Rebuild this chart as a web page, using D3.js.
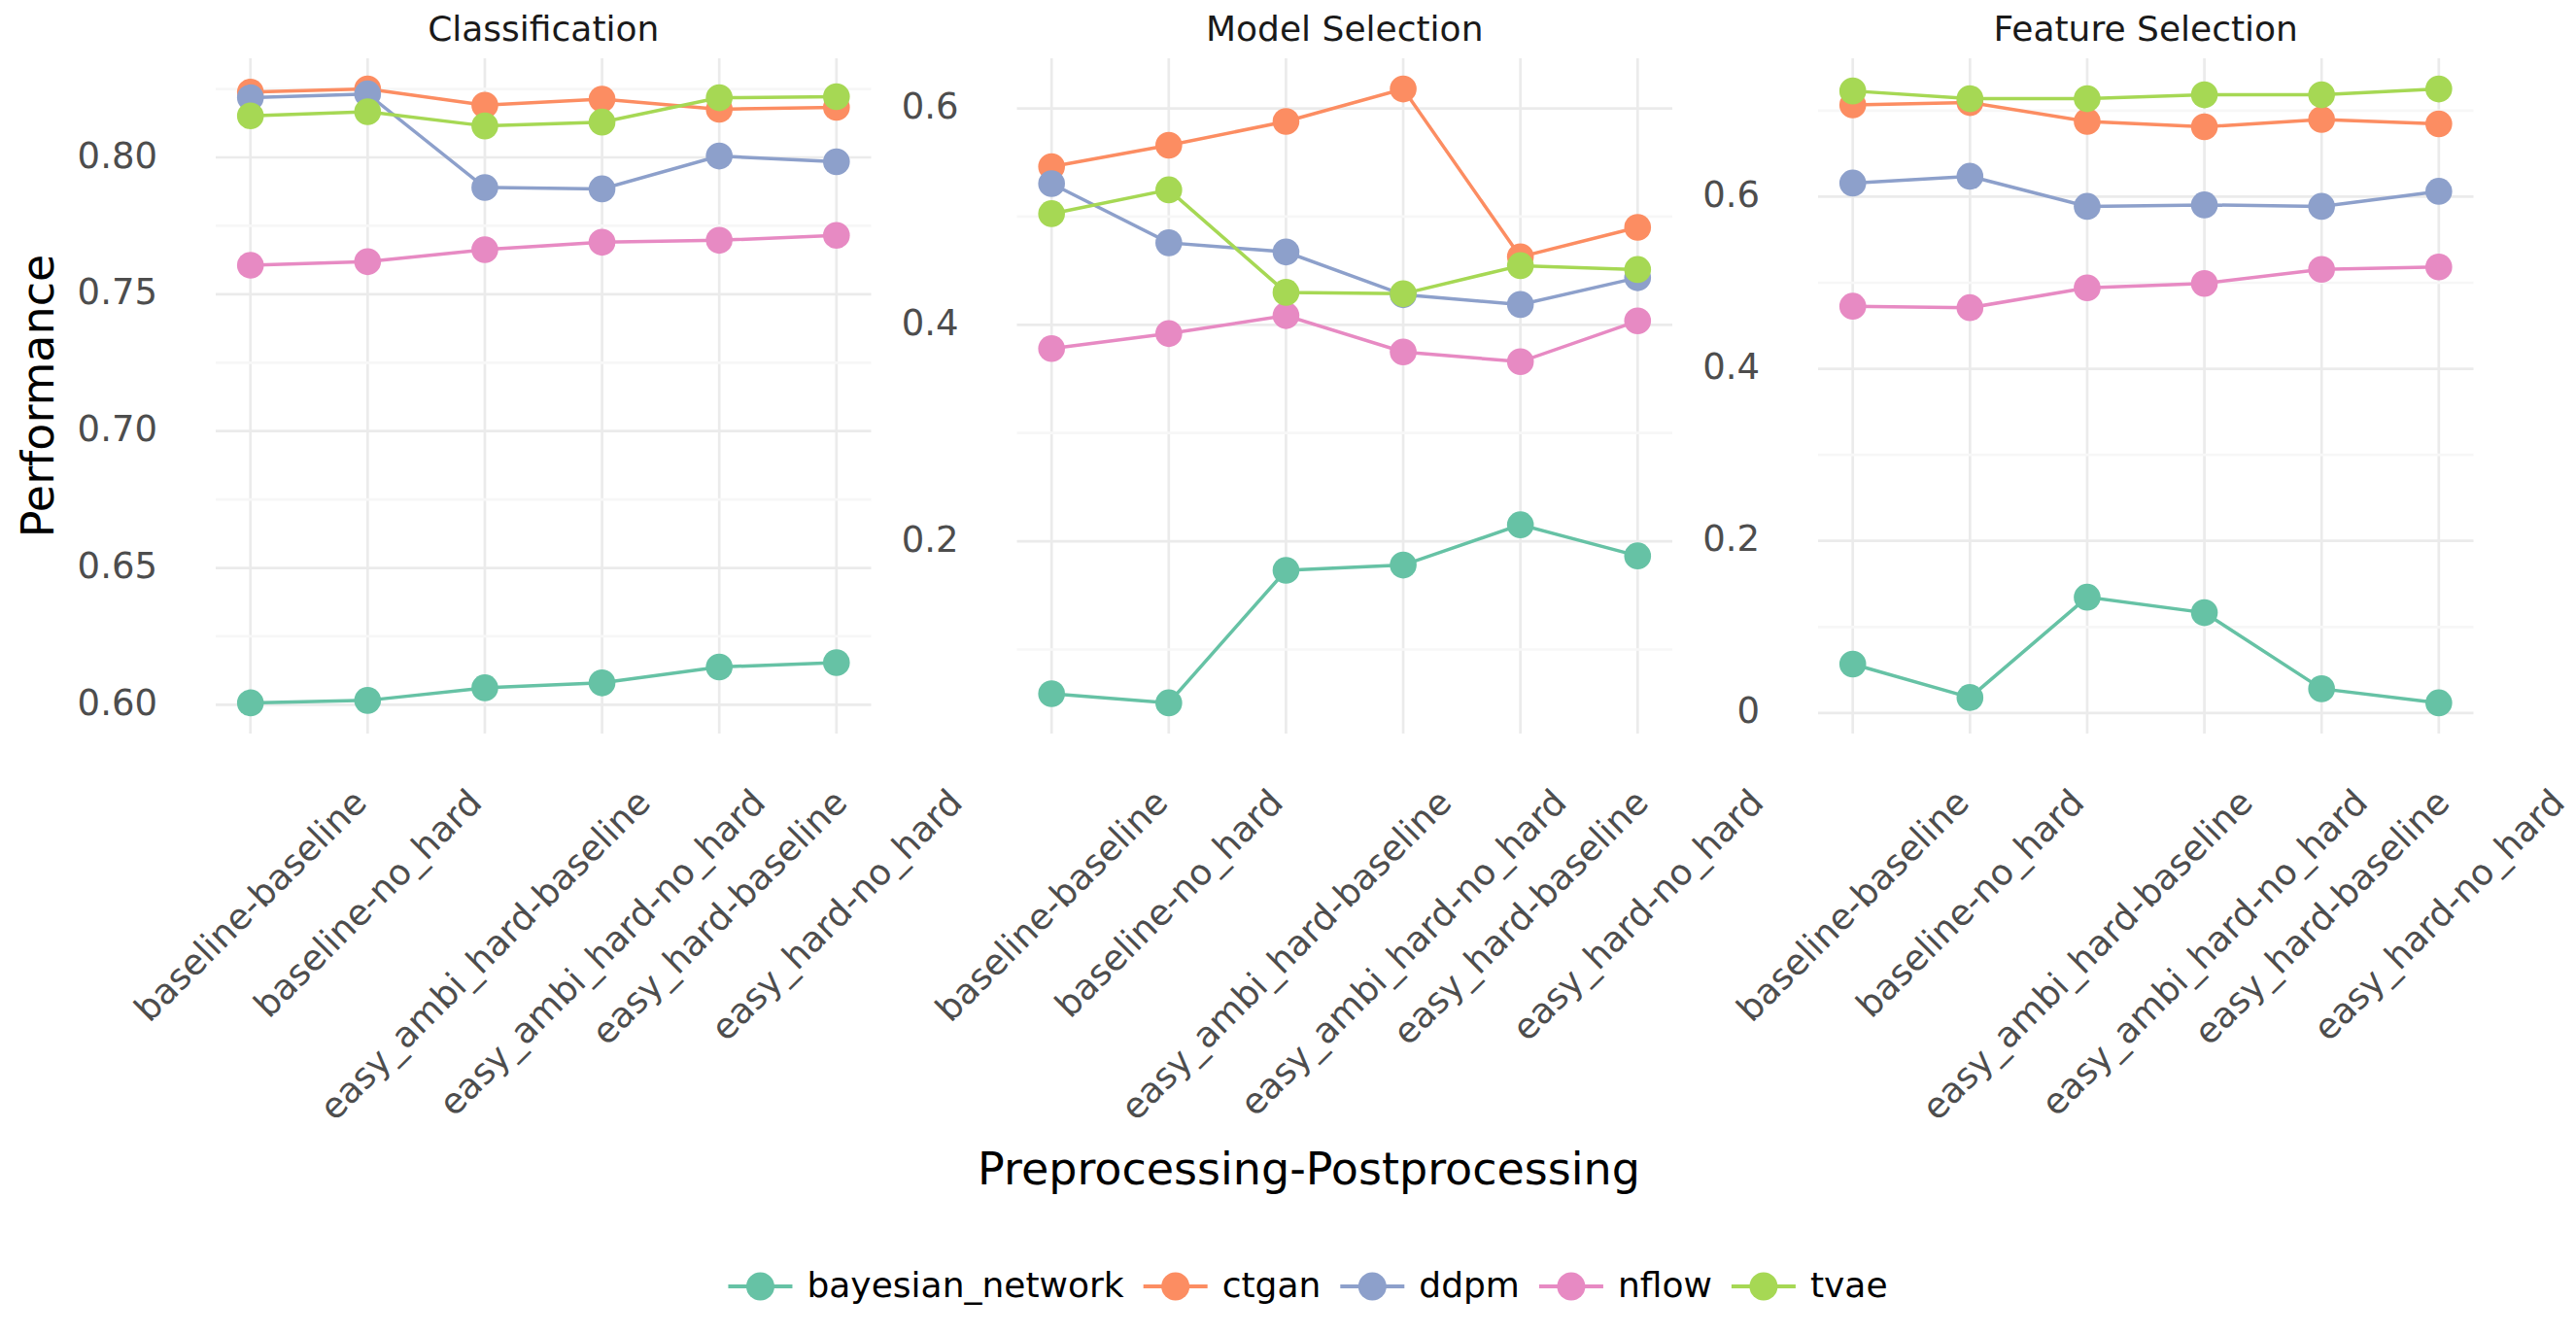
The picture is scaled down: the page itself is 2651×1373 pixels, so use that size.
<!DOCTYPE html>
<html>
<head>
<meta charset="utf-8">
<script src="https://cdn.jsdelivr.net/npm/d3@7"></script>
<style>
  body { margin: 0; background: #ffffff; }
  text { font-family: "DejaVu Sans", sans-serif; }
</style>
</head>
<body>
<div id="chart-div"></div>
<script>
// Script globals
const CHART_WIDTH = 2651
const CHART_HEIGHT = 1373
const DIV_ID = "#chart-div"

// categories and series
const categories = ["baseline-baseline", "baseline-no_hard", "easy_ambi_hard-baseline",
  "easy_ambi_hard-no_hard", "easy_hard-baseline", "easy_hard-no_hard"]
const models = ["bayesian_network", "ctgan", "ddpm", "nflow", "tvae"]
const colors = ["#66c2a5", "#fc8d62", "#8da0cb", "#e78ac3", "#a6d854"]
const tasks = ["Classification", "Model Selection", "Feature Selection"]

// Classification values (one array per model)
const classBayesian = [0.6007, 0.6016, 0.6062, 0.6080, 0.6138, 0.6154]
const classCtgan    = [0.8239, 0.8250, 0.8191, 0.8213, 0.8176, 0.8183]
const classDdpm     = [0.8218, 0.8232, 0.7890, 0.7885, 0.8005, 0.7984]
const classNflow    = [0.7606, 0.7619, 0.7663, 0.7690, 0.7697, 0.7715]
const classTvae     = [0.8152, 0.8167, 0.8115, 0.8129, 0.8218, 0.8222]

// Model Selection values
const modelBayesian = [0.0592, 0.0507, 0.1731, 0.1780, 0.2152, 0.1865]
const modelCtgan    = [0.5462, 0.5659, 0.5879, 0.6179, 0.4628, 0.4901]
const modelDdpm     = [0.5305, 0.4758, 0.4673, 0.4278, 0.4188, 0.4435]
const modelNflow    = [0.3780, 0.3919, 0.4085, 0.3749, 0.3659, 0.4036]
const modelTvae     = [0.5027, 0.5247, 0.4300, 0.4287, 0.4547, 0.4511]

// Feature Selection values
const featBayesian = [0.0569, 0.0180, 0.1346, 0.1166, 0.0282, 0.0118]
const featCtgan    = [0.7065, 0.7093, 0.6873, 0.6811, 0.6896, 0.6845]
const featDdpm     = [0.6158, 0.6237, 0.5887, 0.5904, 0.5887, 0.6062]
const featNflow    = [0.4727, 0.4710, 0.4941, 0.4992, 0.5155, 0.5183]
const featTvae     = [0.7228, 0.7138, 0.7138, 0.7183, 0.7183, 0.7251]

// y ticks per panel
const classTicks = [0.60, 0.65, 0.70, 0.75, 0.80]
const classTickLabels = ["0.60", "0.65", "0.70", "0.75", "0.80"]
const classMinor = [0.625, 0.675, 0.725, 0.775, 0.825]
const modelTicks = [0.2, 0.4, 0.6]
const modelTickLabels = ["0.2", "0.4", "0.6"]
const modelMinor = [0.1, 0.3, 0.5]
const featTicks = [0, 0.2, 0.4, 0.6]
const featTickLabels = ["0", "0.2", "0.4", "0.6"]
const featMinor = [0.1, 0.3, 0.5, 0.7]

const xTitle = "Preprocessing-Postprocessing"
const yTitle = "Performance"

// layout
const PANEL_LEFT = [222, 1046.5, 1871]
const PANEL_WIDTH = 674.5
const PANEL_TOP = 60
const PANEL_BOTTOM = 755

init();

function init () {
  let svg = d3.select(DIV_ID).append("svg")
    .attr("width", CHART_WIDTH)
    .attr("height", CHART_HEIGHT)
    .style("display", "block")

  svg.append("rect").attr("width", CHART_WIDTH).attr("height", CHART_HEIGHT).attr("fill", "#fff")

  const panels = [
    { values: [classBayesian, classCtgan, classDdpm, classNflow, classTvae],
      ticks: classTicks, labels: classTickLabels, minor: classMinor },
    { values: [modelBayesian, modelCtgan, modelDdpm, modelNflow, modelTvae],
      ticks: modelTicks, labels: modelTickLabels, minor: modelMinor },
    { values: [featBayesian, featCtgan, featDdpm, featNflow, featTvae],
      ticks: featTicks, labels: featTickLabels, minor: featMinor }
  ]

  panels.forEach((p, i) => drawPanel(svg, p, i))
  drawTitles(svg)
  drawLegend(svg)
}

/**
 * draw one facet panel
 */
function drawPanel (svg, panel, i) {
  const left = PANEL_LEFT[i]
  const g = svg.append("g").attr("class", "panel")

  const x = d3.scalePoint()
    .domain(categories)
    .range([left, left + PANEL_WIDTH])
    .padding(0.296)

  // 5% expansion like ggplot
  const all = panel.values.flat()
  const [lo, hi] = d3.extent(all)
  const pad = (hi - lo) * 0.05
  const y = d3.scaleLinear()
    .domain([lo - pad, hi + pad])
    .range([PANEL_BOTTOM, PANEL_TOP])

  // vertical major grid
  g.selectAll("line.vgrid").data(categories).enter().append("line")
    .attr("x1", d => x(d)).attr("x2", d => x(d))
    .attr("y1", PANEL_TOP).attr("y2", PANEL_BOTTOM)
    .attr("stroke", "#ebebeb").attr("stroke-width", 2.7)

  // minor horizontal grid
  g.selectAll("line.minor").data(panel.minor.filter(v => v >= y.domain()[0] && v <= y.domain()[1]))
    .enter().append("line")
    .attr("x1", left).attr("x2", left + PANEL_WIDTH)
    .attr("y1", d => y(d)).attr("y2", d => y(d))
    .attr("stroke", "#f7f7f7").attr("stroke-width", 2.7)

  // major horizontal grid
  g.selectAll("line.hgrid").data(panel.ticks).enter().append("line")
    .attr("x1", left).attr("x2", left + PANEL_WIDTH)
    .attr("y1", d => y(d)).attr("y2", d => y(d))
    .attr("stroke", "#ebebeb").attr("stroke-width", 2.7)

  // y axis labels
  const yAxis = g.append("g")
    .attr("transform", `translate(${left},0)`)
    .call(d3.axisLeft(y).tickValues(panel.ticks)
      .tickFormat((d, k) => panel.labels[k]).tickSize(0).tickPadding(60))
  yAxis.select(".domain").remove()
  yAxis.selectAll("text")
    .attr("font-family", "DejaVu Sans").attr("font-size", 37)
    .attr("fill", "#4d4d4d").attr("dy", "0.27em")

  // lines
  const line = d3.line().x((d, k) => x(categories[k])).y(d => y(d))
  panel.values.forEach((series, m) => {
    g.append("path").datum(series)
      .attr("d", line).attr("fill", "none")
      .attr("stroke", colors[m]).attr("stroke-width", 3.5)
  })

  // points
  panel.values.forEach((series, m) => {
    g.selectAll("circle.m" + m).data(series).enter().append("circle")
      .attr("cx", (d, k) => x(categories[k]))
      .attr("cy", d => y(d))
      .attr("r", 13.8)
      .attr("fill", colors[m])
  })

  // strip title
  svg.append("text")
    .attr("x", left + PANEL_WIDTH / 2).attr("y", 42)
    .attr("text-anchor", "middle").attr("font-size", 36).attr("fill", "#1a1a1a")
    .text(tasks[i])

  // rotated x labels: bbox centred on tick, top below the axis
  const fs = 36.5
  const asc = 0.928 * fs, desc = 0.236 * fs
  const baseY = 828
  categories.forEach(c => {
    const t = svg.append("text")
      .attr("font-size", fs).attr("fill", "#4d4d4d")
      .attr("text-anchor", "end")
      .text(c)
    const L = t.node().getComputedTextLength()
    const ex = x(c) + (L + asc - desc) * Math.SQRT1_2 / 2
    t.attr("x", ex).attr("y", baseY)
      .attr("transform", `rotate(-45,${ex},${baseY})`)
  })
}

/**
 * axis titles
 */
function drawTitles (svg) {
  svg.append("text")
    .attr("x", 1347).attr("y", 1219)
    .attr("text-anchor", "middle").attr("font-size", 46).attr("fill", "#000")
    .text(xTitle)

  svg.append("text")
    .attr("transform", `translate(55,${(PANEL_TOP + PANEL_BOTTOM) / 2}) rotate(-90)`)
    .attr("text-anchor", "middle").attr("font-size", 46).attr("fill", "#000")
    .text(yTitle)
}

/**
 * bottom legend
 */
function drawLegend (svg) {
  const g = svg.append("g").attr("class", "legend")
  const cy = 1324
  let xPos = 0
  models.forEach((m, i) => {
    const item = g.append("g")
    item.append("line")
      .attr("x1", xPos).attr("x2", xPos + 66)
      .attr("y1", cy).attr("y2", cy)
      .attr("stroke", colors[i]).attr("stroke-width", 4)
    item.append("circle")
      .attr("cx", xPos + 33).attr("cy", cy).attr("r", 14.5)
      .attr("fill", colors[i])
    const t = item.append("text")
      .attr("x", xPos + 81).attr("y", 1335)
      .attr("font-size", 36).attr("fill", "#000")
      .text(m)
    xPos += 81 + t.node().getComputedTextLength() + 20
  })
  const total = xPos - 20
  g.attr("transform", `translate(${1346 - total / 2},0)`)
}
</script>
</body>
</html>
